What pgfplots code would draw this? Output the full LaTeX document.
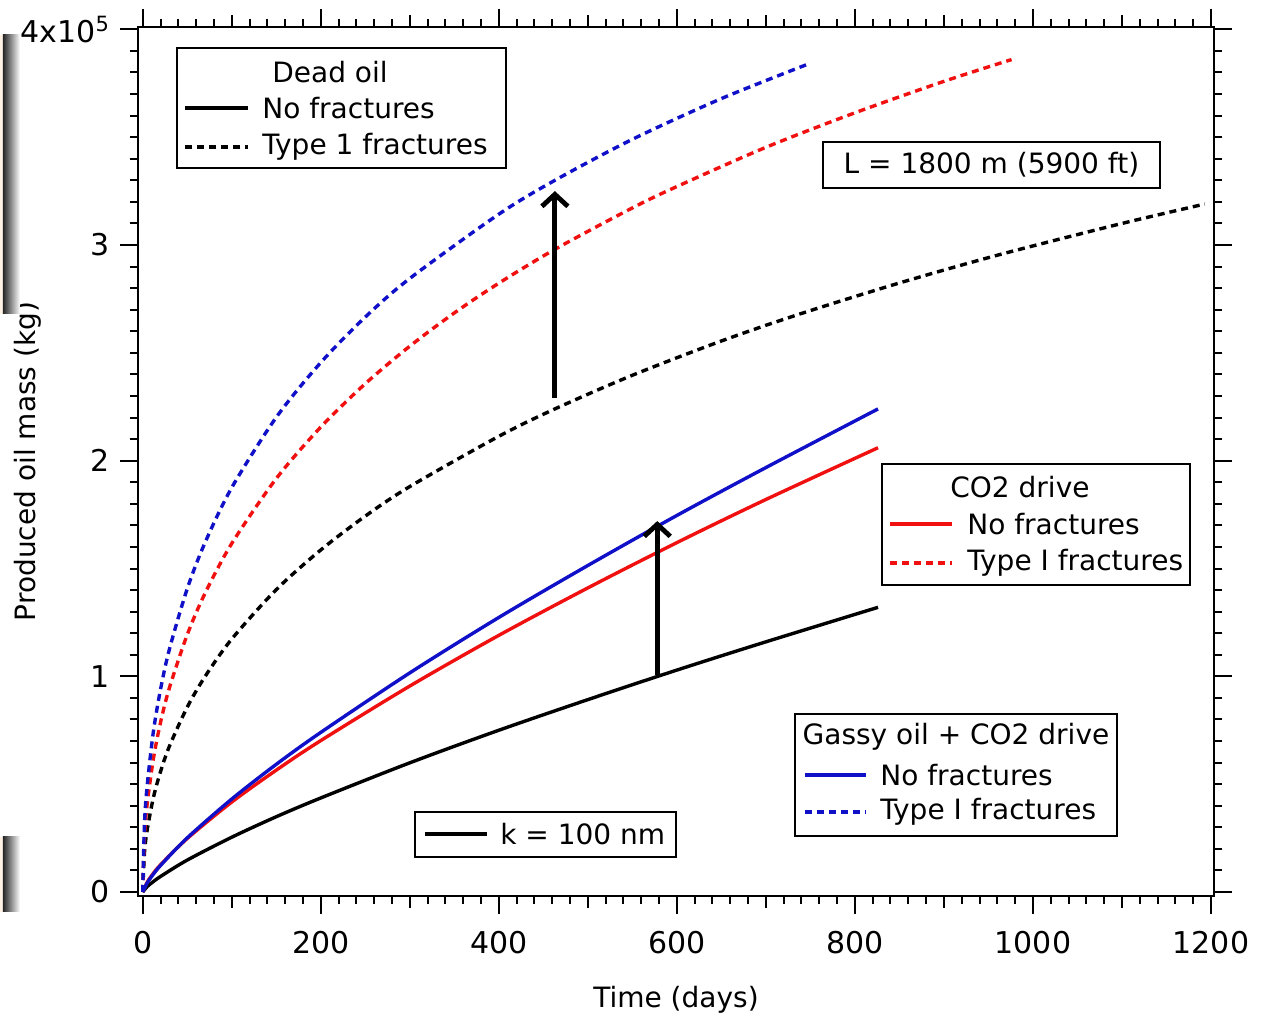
\documentclass[border=0pt]{standalone}
\usepackage{fontspec}
\setmainfont{DejaVu Sans}
\usepackage{pgfplots}
\pgfplotsset{compat=1.18}
\usetikzlibrary{arrows.meta}
\definecolor{cred}{HTML}{F01010}
\definecolor{cblue}{HTML}{1010C8}

% produced oil mass, units of 1e5 kg
\pgfplotstableread{
t m
0 0
5 0.025
10 0.042
20 0.072
50 0.148
100 0.254
150 0.349
200 0.436
300 0.599
400 0.750
500 0.892
600 1.029
700 1.160
826 1.320
}\deadNo
\pgfplotstableread{
t m
0 0
2 0.183
5 0.287
12 0.438
20 0.558
30 0.676
50 0.857
70 0.999
100 1.173
150 1.402
200 1.586
250 1.743
300 1.880
400 2.113
463 2.240
550 2.396
650 2.555
738 2.680
850 2.824
963 2.956
1100 3.100
1193 3.190
}\deadFr
\pgfplotstableread{
t m
0 0
5 0.045
10 0.076
20 0.126
50 0.248
100 0.417
150 0.565
200 0.702
300 0.955
400 1.190
500 1.410
600 1.620
700 1.820
826 2.060
}\coNo
\pgfplotstableread{
t m
0 0
2 0.261
5 0.407
12 0.618
20 0.786
30 0.947
50 1.193
70 1.385
100 1.616
150 1.917
200 2.156
250 2.357
300 2.531
350 2.685
400 2.823
463 2.980
550 3.172
600 3.271
700 3.453
800 3.613
900 3.759
976 3.860
}\coFr
\pgfplotstableread{
t m
0 0
5 0.042
10 0.072
20 0.123
50 0.251
100 0.431
150 0.592
200 0.740
300 1.016
400 1.273
500 1.514
600 1.746
700 1.968
826 2.240
}\gasNo
\pgfplotstableread{
t m
0 0
2 0.318
5 0.493
12 0.744
20 0.939
30 1.126
50 1.406
70 1.620
100 1.875
150 2.201
200 2.455
250 2.666
300 2.845
400 3.143
463 3.300
550 3.490
650 3.679
748 3.840
}\gasFr

\begin{document}
\begin{tikzpicture}[font=\fontsize{14}{17}\selectfont]
\begin{axis}[
  scale only axis,
  width=538pt, height=434.5pt,
  xmin=-5.3, xmax=1203.4, ymin=-0.0185, ymax=4.011,
  xtick={0,200,...,1200},
  ytick={0,1,2,3,4},
  yticklabels={0,1,2,3,{4x10\textsuperscript{5}}},
  minor x tick num=9, minor y tick num=9,
  extra x ticks={100,300,...,1100},
  extra x tick style={major tick length=6pt, xticklabels={}},
  tick align=outside, tick pos=both,
  major tick length=9pt, minor tick length=4pt,
  every tick/.style={black, line width=1pt},
  axis line style={line width=1pt},
  tick label style={font=\fontsize{15}{18}\selectfont},
  xticklabel style={yshift=-5pt},
  yticklabel style={xshift=-1.5pt},
  /pgf/number format/assume math mode=true,
  /pgf/number format/1000 sep={},
  xlabel={Time (days)},
  ylabel={Produced oil mass (kg)},
  xlabel style={at={(axis description cs:0.5,-0.1197)}, anchor=center},
  ylabel style={at={(axis description cs:-0.1022,0.5)}, anchor=center},
  every axis plot/.append style={smooth, line width=1.7pt},
  clip=false,
]
\addplot[black] table[x=t,y=m] {\deadNo};
\addplot[black, dash pattern=on 3.5pt off 2.5pt] table[x=t,y=m] {\deadFr};
\addplot[cred] table[x=t,y=m] {\coNo};
\addplot[cred, dash pattern=on 3.5pt off 2.5pt] table[x=t,y=m] {\coFr};
\addplot[cblue] table[x=t,y=m] {\gasNo};
\addplot[cblue, dash pattern=on 3.5pt off 2.5pt] table[x=t,y=m] {\gasFr};
\draw[line width=2.4pt, -{Straight Barb[length=6pt,width=13pt]}] (axis cs:463,2.29) -- (axis cs:463,3.25);
\draw[line width=2.4pt, -{Straight Barb[length=6pt,width=13pt]}] (axis cs:578,1.006) -- (axis cs:578,1.72);
\end{axis}
% Dead oil legend
\draw[line width=0.8pt, fill=white] (19.5pt,364pt) rectangle (184pt,424pt);
\node at (96pt,412pt) {Dead oil};
\draw[line width=1.6pt] (23.5pt,394pt) -- (55pt,394pt);
\node[anchor=west, inner sep=0pt] at (62pt,394pt) {No fractures};
\draw[line width=1.6pt, dash pattern=on 3.5pt off 2.5pt] (23.5pt,374.5pt) -- (55pt,374.5pt);
\node[anchor=west, inner sep=0pt] at (62pt,374.5pt) {Type 1 fractures};
% length box
\draw[line width=0.8pt, fill=white] (342.5pt,354pt) rectangle (511pt,377pt);
\node at (426.75pt,365.5pt) {L = 1800 m (5900 ft)};
% CO2 legend
\draw[line width=0.8pt, fill=white] (372pt,155.5pt) rectangle (526pt,216pt);
\node at (441pt,204.5pt) {CO2 drive};
\draw[cred, line width=1.6pt] (376pt,186pt) -- (407pt,186pt);
\node[anchor=west, inner sep=0pt] at (414.5pt,186pt) {No fractures};
\draw[cred, line width=1.6pt, dash pattern=on 3.5pt off 2.5pt] (376pt,166.5pt) -- (407pt,166.5pt);
\node[anchor=west, inner sep=0pt] at (414.5pt,166.5pt) {Type I fractures};
% gassy legend
\draw[line width=0.8pt, fill=white] (328.5pt,30pt) rectangle (489.5pt,91pt);
\node at (409pt,79.5pt) {Gassy oil + CO2 drive};
\draw[cblue, line width=1.6pt] (333.5pt,60.5pt) -- (364pt,60.5pt);
\node[anchor=west, inner sep=0pt] at (371pt,60.5pt) {No fractures};
\draw[cblue, line width=1.6pt, dash pattern=on 3.5pt off 2.5pt] (333.5pt,42pt) -- (364pt,42pt);
\node[anchor=west, inner sep=0pt] at (371pt,42pt) {Type I fractures};
% permeability box
\draw[line width=0.8pt, fill=white] (138.5pt,19.5pt) rectangle (269pt,42pt);
\draw[line width=1.6pt] (143.5pt,31pt) -- (174.5pt,31pt);
\node[anchor=west, inner sep=0pt] at (181pt,31pt) {k = 100 nm};
% window shadow strips at the left edge
\fill[orange!10] (-69pt,291pt) rectangle (-67.5pt,430.5pt);
\shade[left color=black!85, right color=white] (-67.5pt,291pt) rectangle (-59pt,430.5pt);
\fill[orange!10] (-69pt,-8pt) rectangle (-67.5pt,29.5pt);
\shade[left color=black!85, right color=white] (-67.5pt,-8pt) rectangle (-59pt,29.5pt);
\pgfresetboundingbox
\path (-69pt,-60.5pt) rectangle (564pt,448pt);
\end{tikzpicture}
\end{document}
